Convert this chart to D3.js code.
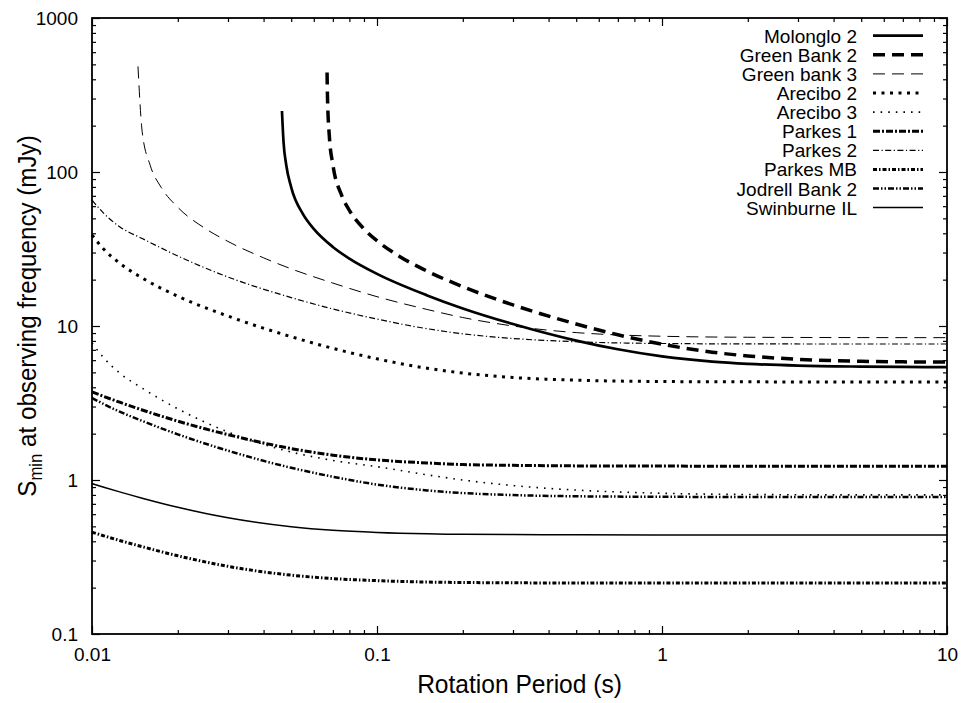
<!DOCTYPE html>
<html>
<head>
<meta charset="UTF-8">
<title>Smin vs rotation period</title>
<script src="https://d3js.org/d3.v7.min.js"></script>
<style>
    body { margin: 0; background: #fff; }
    text { font-family: "Liberation Sans", Arial, Helvetica, sans-serif; fill: #000; }
    .tick line { stroke: #000; stroke-width: 1.2px; }
    .tick text { font-size: 19px; }
    .curve { fill: none; stroke: #000; stroke-linecap: butt; stroke-linejoin: round; }
</style>
</head>
<body>
<script>
// rotation periods (s) shared by the curves that start at the left edge
const periods = [0.01, 0.011, 0.0125, 0.015, 0.02, 0.03, 0.05, 0.07, 0.1, 0.15, 0.2, 0.3, 0.5, 1, 2, 5, 10];

const arecibo2 = [38.9, 31.5, 25.6, 20.5, 15.6, 11.6, 8.52, 7.16, 6.12, 5.32, 4.95, 4.63, 4.45, 4.36, 4.34, 4.33, 4.33];
const arecibo3 = [7.75, 6.2, 4.95, 3.95, 2.9, 2.05, 1.52, 1.34, 1.22, 1.08, 1.0, 0.92, 0.86, 0.82, 0.805, 0.80, 0.80];
const parkes1 = [3.73, 3.49, 3.20, 2.85, 2.41, 1.97, 1.60, 1.45, 1.35, 1.29, 1.26, 1.245, 1.235, 1.231, 1.23, 1.23, 1.23];
const parkes2 = [65.7, 53.9, 44.1, 37.0, 28.5, 20.8, 15.3, 12.9, 11.1, 9.6, 8.9, 8.3, 7.9, 7.7, 7.65, 7.64, 7.64];
const parkesMB = [0.458, 0.434, 0.405, 0.369, 0.322, 0.275, 0.241, 0.229, 0.222, 0.2175, 0.216, 0.215, 0.2143, 0.214, 0.214, 0.214, 0.214];
const jodrell2 = [3.41, 3.11, 2.78, 2.42, 1.98, 1.55, 1.20, 1.05, 0.934, 0.856, 0.823, 0.798, 0.784, 0.778, 0.776, 0.776, 0.776];
const swinburne = [0.948, 0.898, 0.837, 0.762, 0.665, 0.568, 0.497, 0.471, 0.456, 0.447, 0.444, 0.442, 0.441, 0.44, 0.44, 0.44, 0.44];

// curves with a cut-off at short periods
const molongloP = [0.0464, 0.047, 0.048, 0.05, 0.055, 0.06, 0.07, 0.08, 0.1, 0.15, 0.2, 0.3, 0.5, 0.7, 1, 1.5, 2, 3, 5, 7, 10];
const molonglo2 = [249, 156.5, 111.8, 79.5, 53.2, 42.7, 32.6, 27.4, 21.8, 15.8, 13.0, 10.3, 8.04, 7.06, 6.35, 5.87, 5.68, 5.53, 5.45, 5.42, 5.41];

const greenBank2P = [0.0668, 0.067, 0.068, 0.07, 0.075, 0.08, 0.09, 0.1, 0.12, 0.15, 0.2, 0.3, 0.5, 0.7, 1, 1.5, 2, 3, 5, 7, 10];
const greenBank2 = [443, 320, 173.5, 111.8, 71.2, 56.4, 42.7, 35.8, 28.3, 22.7, 18.0, 13.7, 10.3, 8.77, 7.62, 6.76, 6.39, 6.08, 5.90, 5.85, 5.83];

const greenBank3P = [0.0145, 0.015, 0.016, 0.0175, 0.02, 0.025, 0.03, 0.04, 0.05, 0.07, 0.1, 0.15, 0.2, 0.3, 0.5, 0.7, 1, 2, 5, 10];
const greenBank3 = [485, 182.6, 110.7, 79.3, 59.0, 42.9, 35.4, 27.7, 23.5, 19.0, 15.5, 12.8, 11.35, 10.0, 9.06, 8.75, 8.58, 8.45, 8.41, 8.4];

const xTickLabels = ['0.01', '0.1', '1', '10'];
const yTickLabels = ['0.1', '1', '10', '100', '1000'];

const width = 966;
const height = 703;
const marginTop = 18;
const marginRight = 19;
const marginBottom = 69;
const marginLeft = 92;

const svg = d3.select('body').append('svg')
    .attr('width', width)
    .attr('height', height);

const x = d3.scaleLog().domain([0.01, 10]).range([marginLeft, width - marginRight]);
const y = d3.scaleLog().domain([0.1, 1000]).range([height - marginBottom, marginTop]);

const isMajor = d => Math.abs(Math.log10(d) - Math.round(Math.log10(d))) < 1e-9;
const xMajor = x.ticks().filter(isMajor);
const xMinor = x.ticks().filter(d => !isMajor(d));
const yMajor = y.ticks().filter(isMajor);
const yMinor = y.ticks().filter(d => !isMajor(d));

const bottom = height - marginBottom;
const right = width - marginRight;

// minor ticks on all four sides
svg.append('g').attr('transform', `translate(0,${bottom})`)
    .call(d3.axisBottom(x).tickValues(xMinor).tickSize(-4).tickFormat(''));
svg.append('g').attr('transform', `translate(0,${marginTop})`)
    .call(d3.axisTop(x).tickValues(xMinor).tickSize(-4).tickFormat(''));
svg.append('g').attr('transform', `translate(${marginLeft},0)`)
    .call(d3.axisLeft(y).tickValues(yMinor).tickSize(-4).tickFormat(''));
svg.append('g').attr('transform', `translate(${right},0)`)
    .call(d3.axisRight(y).tickValues(yMinor).tickSize(-4).tickFormat(''));

// major ticks with labels
svg.append('g').attr('transform', `translate(0,${bottom})`)
    .call(d3.axisBottom(x).tickValues(xMajor).tickSize(-8).tickPadding(14)
        .tickFormat((d, i) => xTickLabels[i]));
svg.append('g').attr('transform', `translate(0,${marginTop})`)
    .call(d3.axisTop(x).tickValues(xMajor).tickSize(-8).tickFormat(''));
svg.append('g').attr('transform', `translate(${marginLeft},0)`)
    .call(d3.axisLeft(y).tickValues(yMajor).tickSize(-8).tickPadding(14)
        .tickFormat((d, i) => yTickLabels[i]));
svg.append('g').attr('transform', `translate(${right},0)`)
    .call(d3.axisRight(y).tickValues(yMajor).tickSize(-8).tickFormat(''));

svg.selectAll('.domain').remove();

svg.append('rect')
    .attr('x', marginLeft)
    .attr('y', marginTop)
    .attr('width', right - marginLeft)
    .attr('height', bottom - marginTop)
    .attr('fill', 'none')
    .attr('stroke', '#000')
    .attr('stroke-width', 1.8);

// series, in legend order
const zip = (p, s) => p.map((v, i) => [v, s[i]]);
const series = [
    { name: 'Molonglo 2', data: zip(molongloP, molonglo2), w: 2.7, dash: null },
    { name: 'Green Bank 2', data: zip(greenBank2P, greenBank2), w: 3.5, dash: '12,7' },
    { name: 'Green bank 3', data: zip(greenBank3P, greenBank3), w: 1, dash: '12,7' },
    { name: 'Arecibo 2', data: zip(periods, arecibo2), w: 3, dash: '3,5.5' },
    { name: 'Arecibo 3', data: zip(periods, arecibo3), w: 1.6, dash: '1.6,6' },
    { name: 'Parkes 1', data: zip(periods, parkes1), w: 3, dash: '7,2,2,2' },
    { name: 'Parkes 2', data: zip(periods, parkes2), w: 1.2, dash: '6,2.5,1.2,2.5' },
    { name: 'Parkes MB', data: zip(periods, parkesMB), w: 3, dash: '4,2,1.5,2' },
    { name: 'Jodrell Bank 2', data: zip(periods, jodrell2), w: 2.5, dash: '6,2,1.5,2,1.5,2' },
    { name: 'Swinburne IL', data: zip(periods, swinburne), w: 1.5, dash: null }
];

const line = d3.line()
    .x(d => x(d[0]))
    .y(d => y(d[1]))
    .curve(d3.curveMonotoneX);

svg.append('g').selectAll('path')
    .data(series)
    .enter()
    .append('path')
    .attr('class', 'curve')
    .attr('d', d => line(d.data))
    .attr('stroke-width', d => d.w)
    .attr('stroke-dasharray', d => d.dash);

// legend
const legend = svg.append('g').selectAll('g')
    .data(series)
    .enter()
    .append('g')
    .attr('transform', (d, i) => `translate(0,${35.7 + i * 19.1})`);

legend.append('text')
    .attr('x', 857)
    .attr('y', 7)
    .attr('text-anchor', 'end')
    .style('font-size', '19px')
    .text(d => d.name);

legend.append('line')
    .attr('class', 'curve')
    .attr('x1', 873)
    .attr('x2', 923)
    .attr('stroke-width', d => d.w)
    .attr('stroke-dasharray', d => d.dash);

// axis titles (slightly condensed, like the original)
svg.append('text')
    .attr('transform', `translate(${(marginLeft + right) / 2},693) scale(0.945,1)`)
    .attr('text-anchor', 'middle')
    .style('font-size', '26px')
    .text('Rotation Period (s)');

const yTitle = svg.append('text')
    .attr('transform', `translate(36,${(marginTop + bottom) / 2 - 10}) rotate(-90) scale(0.93,1)`)
    .attr('text-anchor', 'middle')
    .style('font-size', '26px');
yTitle.append('tspan').text('S');
yTitle.append('tspan').attr('dy', 6).style('font-size', '18px').text('min');
yTitle.append('tspan').attr('dy', -6).text(' at observing frequency (mJy)');
</script>
</body>
</html>
